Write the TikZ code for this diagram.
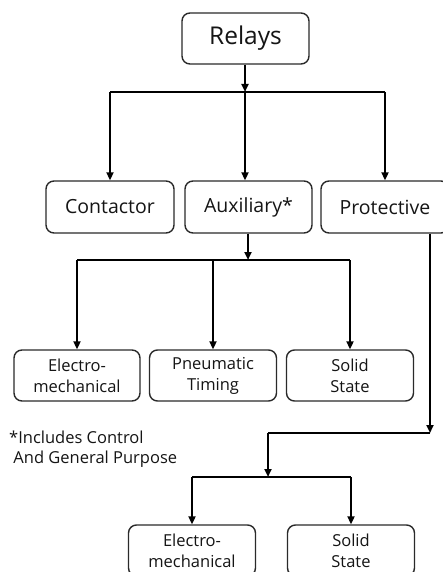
\documentclass[tikz,border=0pt]{standalone}
\usepackage{fontspec}
\setmainfont{Open Sans}
\usetikzlibrary{arrows.meta}
\definecolor{txt}{HTML}{151515}
\definecolor{bord}{HTML}{2A2A2A}
\tikzset{
  box/.style={draw=bord, line width=1.4pt, rounded corners=8pt, rectangle, align=center, text=txt, inner sep=0pt},
  big/.style={box, font=\fontsize{24.5}{28}\selectfont},
  mid/.style={box, font=\fontsize{19.5}{23}\selectfont},
  small/.style={box, font=\fontsize{16.5}{21}\selectfont},
  conn/.style={line width=2pt, black},
  arr/.style={conn, -{Triangle[width=7pt,length=8pt]}}
}
\begin{document}
\begin{tikzpicture}[x=1pt,y=-1pt]
\useasboundingbox (0,0) rectangle (443,572);
\fill[white] (0,0) rectangle (443,572);
\begin{scope}
\clip (0,0) rectangle (443,572);
\node[big, minimum width=127pt, minimum height=51pt] (relays) at (245.5,38.5) {Relays};
\node[mid, minimum width=128pt, minimum height=52pt] (contactor) at (110,207) {Contactor};
\node[mid, minimum width=127pt, minimum height=52pt] (aux) at (248.5,207) {Auxiliary*};
\node[mid, minimum width=128pt, minimum height=52pt] (prot) at (385,207) {Protective};
\node[small, minimum width=126pt, minimum height=51pt] (em1) at (77,375.5) {Electro-\\mechanical};
\node[small, minimum width=127pt, minimum height=51pt] (pt) at (213,375.5) {Pneumatic\\Timing};
\node[small, minimum width=127pt, minimum height=51pt] (ss1) at (350,375.5) {Solid\\State};
\node[small, minimum width=127pt, minimum height=51pt] (em2) at (192,550.5) {Electro-\\mechanical};
\node[small, minimum width=127pt, minimum height=51pt] (ss2) at (351,550.5) {Solid\\State};
\node[anchor=north west, align=left, text=txt, inner sep=0pt, font=\fontsize{16.5}{20}\selectfont] (note) at (9,431) {*Includes Control\\\ And General Purpose};

\coordinate (j1) at (245,92);
\coordinate (j2) at (248,260);
\coordinate (p1) at (430,433);
\coordinate (p2) at (268,433);
\coordinate (j3) at (268,477);

% level 1
\draw[arr] (relays.south -| j1) -- (j1);
\draw[conn] (j1 -| contactor.north) -- (j1 -| prot.north);
\draw[arr] (j1 -| contactor.north) -- (contactor.north);
\draw[arr] (j1) -- (j1 |- aux.north);
\draw[arr] (j1 -| prot.north) -- (prot.north);
% auxiliary
\draw[arr] (aux.south -| j2) -- (j2);
\draw[conn] (j2 -| em1.north) -- (j2 -| ss1.north);
\draw[arr] (j2 -| em1.north) -- (em1.north);
\draw[arr] (j2 -| pt.north) -- (pt.north);
\draw[arr] (j2 -| ss1.north) -- (ss1.north);
% protective
\draw[arr] (prot.south -| p1) -- (p1);
\draw[conn] (p1) -- (p2);
\draw[arr] (p2) -- (j3);
\draw[conn] (j3 -| em2.north) -- (j3 -| ss2.north);
\draw[arr] (j3 -| em2.north) -- (em2.north);
\draw[arr] (j3 -| ss2.north) -- (ss2.north);
\end{scope}
\end{tikzpicture}
\end{document}
